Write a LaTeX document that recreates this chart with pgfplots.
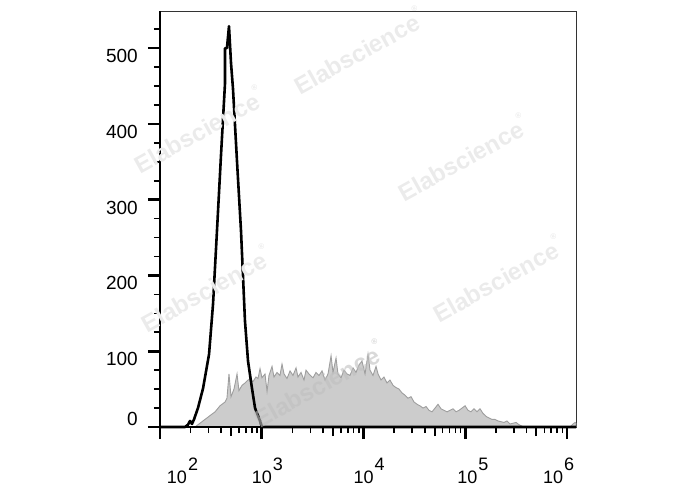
\documentclass[border=0pt]{standalone}
\usepackage{pgfplots}
\pgfplotsset{compat=1.18}
\usepackage{pgfplotstable}
\usepackage{fontspec}
\setmainfont{Liberation Sans}

\newcommand{\dec}[2]{\makebox[0pt][l]{\kern#2\makebox[0pt][r]{1}0\kern1pt\raisebox{0.7em}{#1}}}
\newcommand{\wm}{\fontsize{24}{24}\selectfont\bfseries Elabscience\raisebox{0.75em}{\fontsize{8}{8}\selectfont\textregistered}}

% black (control) histogram: log10(intensity), count
\pgfplotstableread{
L     c
2.000 0
2.246 0
2.275 3
2.295 8
2.314 4
2.334 10
2.373 25
2.423 51
2.482 96
2.521 162
2.560 259
2.600 360
2.639 454
2.639 500
2.658 500
2.678 529
2.698 480
2.717 447
2.757 350
2.796 259
2.835 140
2.865 87
2.904 51
2.934 25
2.983 8
3.002 0
6.088 0
}\ctrl

% gray (stained) histogram
\pgfplotstableread{
L     c
2.344 0
2.393 5
2.442 10
2.491 15
2.541 20
2.590 28
2.639 33
2.658 38
2.678 70
2.698 40
2.727 50
2.757 70
2.776 48
2.806 55
2.835 58
2.865 62
2.885 63
2.914 60
2.943 66
2.963 64
2.983 77
3.002 65
3.032 70
3.052 47
3.071 68
3.101 80
3.120 66
3.150 72
3.179 68
3.199 83
3.219 70
3.248 64
3.278 74
3.307 68
3.337 78
3.356 66
3.386 72
3.415 62
3.435 75
3.464 70
3.494 66
3.504 65
3.533 72
3.563 68
3.592 74
3.622 62
3.651 70
3.681 94
3.700 72
3.730 91
3.749 70
3.779 65
3.808 75
3.838 70
3.867 68
3.897 78
3.926 72
3.956 82
3.985 87
4.015 70
4.044 96
4.064 75
4.093 68
4.123 80
4.143 70
4.172 62
4.201 66
4.231 58
4.260 62
4.290 55
4.319 52
4.349 50
4.378 45
4.408 42
4.437 38
4.467 40
4.496 33
4.526 30
4.555 28
4.585 25
4.614 27
4.644 22
4.673 20
4.703 25
4.732 30
4.762 24
4.791 22
4.821 20
4.850 22
4.880 24
4.909 20
4.939 22
4.968 25
4.998 28
5.027 22
5.056 20
5.086 24
5.115 20
5.145 24
5.174 18
5.204 14
5.233 12
5.263 10
5.292 10
5.322 8
5.351 7
5.381 6
5.410 8
5.440 4
5.469 5
5.499 6
5.528 3
5.558 1
5.577 0
6.029 0
6.059 4
6.079 6
6.088 5
}\stained

\begin{document}
\begin{tikzpicture}[x=1pt,y=1pt]
\useasboundingbox (-160,-63) rectangle (528,427);
\begin{axis}[
  at={(0,0)}, anchor=south west,
  width=416pt, height=416pt, scale only axis,
  xmin=2, xmax=6.088, ymin=0, ymax=549,
  axis line style={line width=0.9pt, black!80},
  tick align=outside, tick pos=left,
  xtick={2,3,4,5,6},
  xticklabels={\dec{2}{17pt},\dec{3}{0pt},\dec{4}{0pt},\dec{5}{2pt},\dec{6}{-14pt}},
  minor xtick={2.301,2.477,2.602,2.778,2.845,2.903,2.954,
               3.301,3.477,3.602,3.778,3.845,3.903,3.954,
               4.301,4.477,4.602,4.778,4.845,4.903,4.954,
               5.301,5.477,5.602,5.778,5.845,5.903,5.954},
  extra x ticks={2.699,3.699,4.699,5.699},
  extra x tick labels={},
  extra x tick style={major tick length=9pt, major tick style={line width=2pt}},
  ytick={0,100,...,500},
  yticklabels={,100,200,300,400,500},
  minor ytick={25,50,75,125,150,175,225,250,275,325,350,375,425,450,475,525},
  major tick length=12pt, minor tick length=6pt,
  every tick/.style={black},
  major tick style={line width=2.6pt},
  minor tick style={line width=1.6pt},
  yticklabel style={font=\fontsize{19}{19}\selectfont, anchor=north east, inner sep=0pt, xshift=-10pt, yshift=-1pt},
  xticklabel style={font=\fontsize{18}{18}\selectfont, anchor=base, inner sep=0pt, yshift=-44pt},
  clip=false,
]
\addplot[fill=black!20, draw=black!38, line width=0.9pt] table[x=L,y=c] {\stained} \closedcycle;
\addplot[black, line width=2.6pt, line join=round] table[x=L,y=c] {\ctrl};
\draw[line width=2.8pt, black] (rel axis cs:0,0) -- (rel axis cs:1,0);
\draw[line width=1.1pt, black] (rel axis cs:0,0) -- (rel axis cs:0,1);
\node[anchor=south east, inner sep=0pt, font=\fontsize{19}{19}\selectfont, xshift=-22pt, yshift=1pt] at (rel axis cs:0,0) {0};
\end{axis}
\begin{scope}[every node/.style={text=black!8, rotate=29}]
\node at (198,377) {\wm};
\node at (38,298) {\wm};
\node at (302,270) {\wm};
\node at (45,139) {\wm};
\node at (337,149) {\wm};
\node[text=white!75!black, opacity=0.6] at (158,44) {\wm};
\end{scope}
\end{tikzpicture}
\end{document}
